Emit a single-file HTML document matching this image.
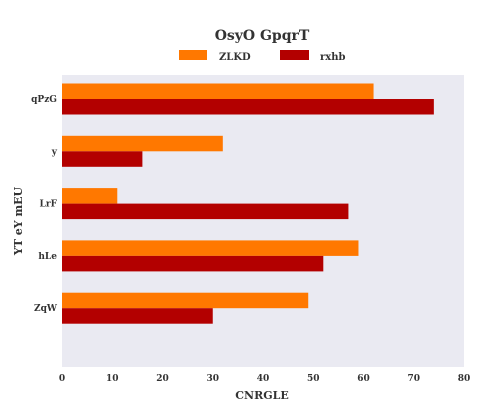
<!DOCTYPE html>
<html><head><meta charset="utf-8"><style>
body{margin:0;background:#fff;}
svg text{font-family:"DejaVu Serif","Liberation Serif",serif;font-weight:bold;fill:#333;}
</style></head><body>
<svg id="c" width="483" height="414" xmlns="http://www.w3.org/2000/svg">
<rect x="62" y="75" width="402" height="292" fill="#eaeaf2"/>
<text x="262" y="40" text-anchor="middle" font-size="14">OsyO GpqrT</text>
<rect x="179" y="50" width="28" height="10" fill="#ff7800"/>
<text x="219" y="60" font-size="10">ZLKD</text>
<rect x="280" y="50" width="29" height="10" fill="#b30000"/>
<text x="320" y="60" font-size="10">rxhb</text>
<text x="262" y="399" text-anchor="middle" font-size="11">CNRGLE</text>
<text transform="translate(22,221) rotate(-90)" text-anchor="middle" font-size="11">YT eY mEU</text>
<g id="marks"></g>
</svg>
<script>
const categories=["qPzG","y","LrF","hLe","ZqW"];
const zlkd=[62,32,11,59,49];
const rxhb=[74,16,57,52,30];
const xTicks=[0,10,20,30,40,50,60,70,80];
const NS="http://www.w3.org/2000/svg";
const g=document.getElementById('marks');
function xs(v){return 62+v*(402/80);}
function yc(i){return 99+i*52.3;}
const bh=15.5;
function mk(tag,attrs){const e=document.createElementNS(NS,tag);for(const k in attrs)e.setAttribute(k,attrs[k]);g.appendChild(e);return e;}
categories.forEach((c,i)=>{
  let r=mk('rect',{x:62,y:yc(i)-bh,width:xs(zlkd[i])-62,height:bh,fill:'#ff7800'});
  
  
  let r2=mk('rect',{x:62,y:yc(i),width:xs(rxhb[i])-62,height:bh,fill:'#b30000'});
  
  
  let t=mk('text',{x:57,y:yc(i)+3,'text-anchor':'end','font-size':'9'});
  t.textContent=c;
  
  
});
xTicks.forEach(v=>{
  let t=mk('text',{x:xs(v),y:381,'text-anchor':'middle','font-size':'9'});
  t.textContent=v;
  
  
});
</script>
</body></html>
